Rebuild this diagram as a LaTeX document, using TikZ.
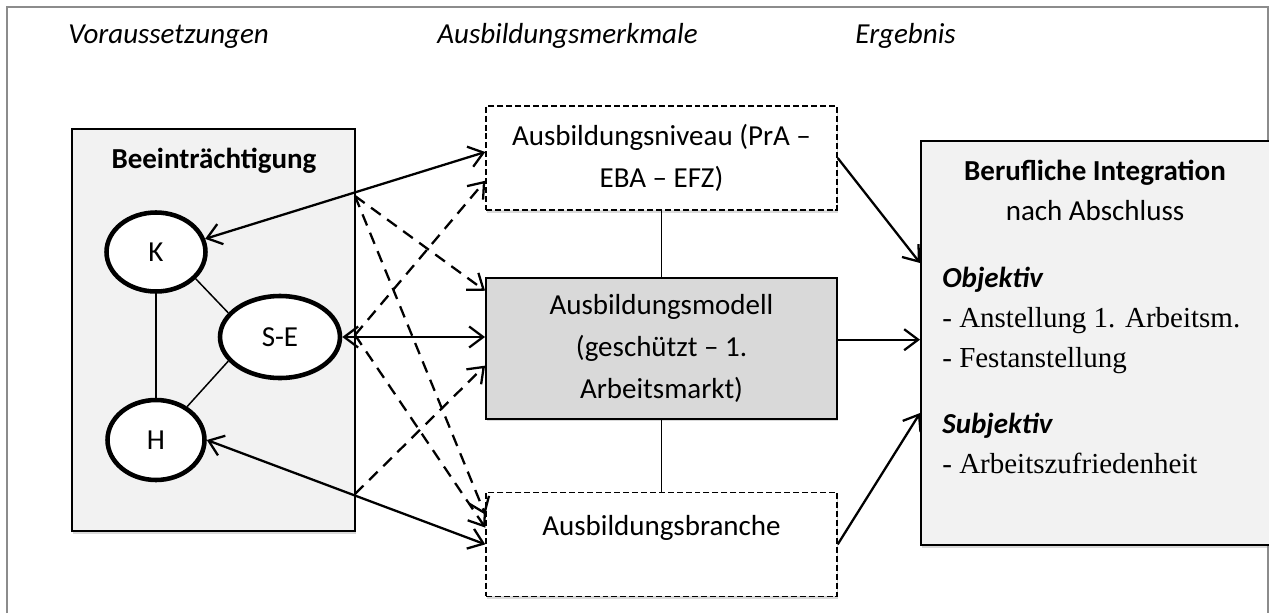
\documentclass[tikz,border=0pt]{standalone}
\usepackage{fontspec}
\setmainfont{Carlito}
\newfontfamily\timesfont{Liberation Serif}
\usepackage{tikz}
\usetikzlibrary{arrows.meta,positioning,shapes.geometric,shadows}
\definecolor{Frame}{HTML}{8C8C8C}
\definecolor{Pale}{HTML}{F2F2F2}
\definecolor{Mid}{HTML}{D9D9D9}
\newcommand\boxfont{\fontsize{16.5}{23.9}\selectfont}
\tikzset{
  every node/.append style={font=\boxfont, text=black},
  softshadow/.style={drop shadow={shadow xshift=0.6pt, shadow yshift=-1.6pt, opacity=0.3}},
  frame/.style={draw=Frame, line width=0.9pt},
  head/.style={anchor=base west, inner sep=0pt, font=\boxfont\itshape},
  panel/.style={draw, fill=Pale, line width=1.1pt, softshadow, inner sep=0pt},
  feat/.style={draw, fill=white, line width=0.85pt, dash pattern=on 3.4pt off 1.7pt,
               softshadow, align=center, minimum width=7.02cm, minimum height=2.08cm, inner sep=0pt},
  core/.style={feat, solid, fill=Mid, line width=1.1pt, minimum height=2.82cm},
  blob/.style={ellipse, draw, fill=white, line width=2.6pt, inner sep=0pt},
  item/.style={anchor=base west, inner sep=0pt},
  link/.style={line width=0.85pt},
  oneway/.style={-{Straight Barb[length=2.8mm,width=4.2mm]}, line width=1.3pt},
  twoway/.style={{Straight Barb[length=2.8mm,width=4.2mm]}-{Straight Barb[length=2.8mm,width=4.2mm]}, line width=1.3pt},
  maybe/.style={oneway, dash pattern=on 6.8pt off 4.5pt},
}
\begin{document}
\begin{tikzpicture}[x=0.02cm, y=-0.02cm]
  \useasboundingbox (0,0) rectangle (1269,613);
  \draw[frame] (7,613) -- (7,7) -- (1268,7) -- (1268,613);

  \node[head] (hvor) at (68,43) {Voraussetzungen};
  \node[head] (hmerk) at (437,43) {Ausbildungsmerkmale};
  \node[head] (herg) at (855,43) {Ergebnis};

  % Voraussetzungen
  \node[panel, minimum width=5.66cm, minimum height=8.04cm] (bee) at (213.5,330) {};
  \node[anchor=base] (beetitle) at (214,168) {\bfseries Beeinträchtigung};
  \node[blob, minimum width=1.98cm, minimum height=1.58cm] (K) at (156,252) {K};
  \node[blob, minimum width=2.4cm, minimum height=1.64cm] (SE) at (280,337) {S-E};
  \node[blob, minimum width=1.94cm, minimum height=1.6cm] (H) at (156,440) {H};

  % Ausbildungsmerkmale
  \node[feat] (niv) at (661.5,158) {Ausbildungsniveau (PrA --\\EBA -- EFZ)};
  \node[core, below=1.32cm of niv] (mod) {Ausbildungsmodell\\(geschützt -- 1.\\Arbeitsmarkt)};
  \node[feat, below=1.44cm of mod] (bra) {Ausbildungsbranche\\[-0.32cm]\strut};

  % Ergebnis
  \node[panel, minimum width=7.28cm, minimum height=8.08cm] (ber) at (1103,343) {};
  \node[anchor=base] (bt1) at (1095,180) {\bfseries Berufliche Integration};
  \node[anchor=base] (bt2) at (1095,220) {nach Abschluss};
  \node[item] (obj) at (942,287) {\bfseries\itshape Objektiv};
  \node[item, font=\boxfont\timesfont] (obj1) at (942,327) {- Anstellung 1. Arbeitsm.};
  \node[item, font=\boxfont\timesfont] (obj2) at (942,367) {- Festanstellung};
  \node[item] (subj) at (942,433) {\bfseries\itshape Subjektiv};
  \node[item, font=\boxfont\timesfont] (subj1) at (942,473) {- Arbeitszufriedenheit};

  \draw[link] (K.-34) -- (SE.155);
  \draw[link] (SE.205) -- (H.47);
  \draw[link] (K) -- (H);
  \draw[link] (niv) -- (mod);
  \draw[link] (mod) -- (bra);

  \draw[twoway] (K.15) -- ([yshift=0.12cm]niv.west);
  \draw[twoway] (SE.east) -- (SE.east -| mod.west);
  \draw[twoway] (H.east) -- (bra.west);

  \coordinate (dtop) at (355,196);
  \coordinate (dmid) at (355,335);
  \coordinate (dbot) at (355,494);
  \draw[maybe] (dtop) -- ([yshift=-0.28cm]mod.north west);
  \draw[maybe] (dtop) -- ([yshift=-0.46cm]bra.north west);
  \draw[maybe] (dmid) -- ([yshift=0.6cm]niv.south west);
  \draw[maybe] (dmid) -- ([yshift=-0.72cm]bra.north west);
  \draw[maybe] (dbot) -- ([yshift=1.08cm]mod.south west);

  \draw[oneway] (niv.east) -- ([yshift=1.6cm]ber.west);
  \draw[oneway] ([yshift=0.17cm]mod.east) -- ([yshift=0.17cm]mod.east -| ber.west);
  \draw[oneway] (bra.east) -- ([yshift=-1.4cm]ber.west);
\end{tikzpicture}
\end{document}
